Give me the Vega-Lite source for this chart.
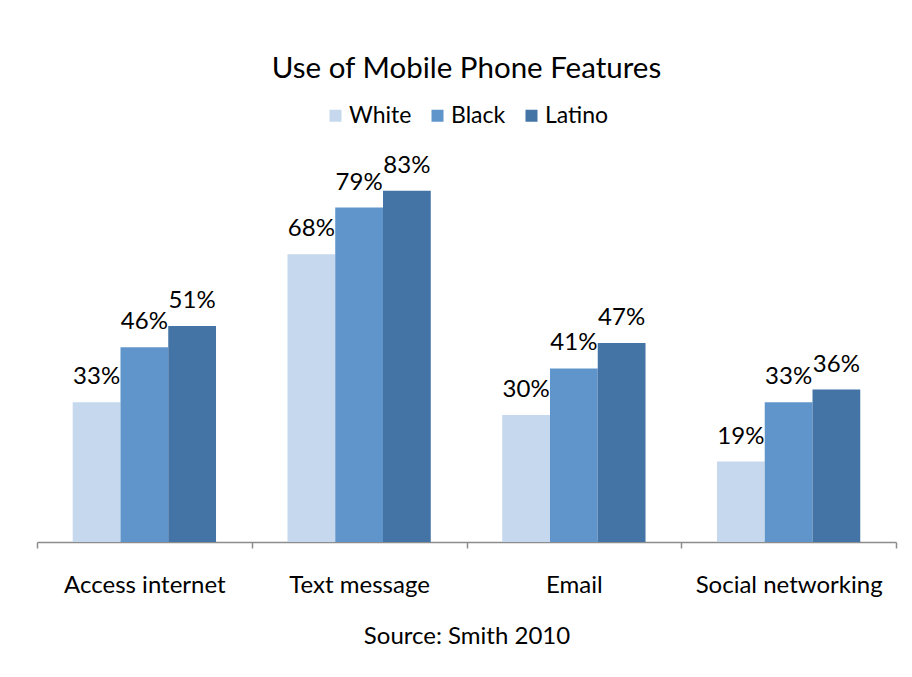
{
  "$schema": "https://vega.github.io/schema/vega-lite/v6.json",
  "autosize": {"type": "none"},
  "width": 859,
  "height": 381,
  "padding": {"left": 37, "top": 161, "right": 16, "bottom": 135},
  "background": "white",
  "config": {"view": {"stroke": null}, "font": "Lato"},
  "title": {
    "text": "Use of Mobile Phone Features",
    "fontSize": 29.5,
    "fontWeight": "normal",
    "font": "Lato",
    "color": "#000000",
    "anchor": "middle",
    "offset": 20
  },
  "data": {
    "values": [
      {"feature": "Access internet", "group": "White", "share": 0.33},
      {"feature": "Access internet", "group": "Black", "share": 0.46},
      {"feature": "Access internet", "group": "Latino", "share": 0.51},
      {"feature": "Text message", "group": "White", "share": 0.68},
      {"feature": "Text message", "group": "Black", "share": 0.79},
      {"feature": "Text message", "group": "Latino", "share": 0.83},
      {"feature": "Email", "group": "White", "share": 0.30},
      {"feature": "Email", "group": "Black", "share": 0.41},
      {"feature": "Email", "group": "Latino", "share": 0.47},
      {"feature": "Social networking", "group": "White", "share": 0.19},
      {"feature": "Social networking", "group": "Black", "share": 0.33},
      {"feature": "Social networking", "group": "Latino", "share": 0.36}
    ]
  },
  "encoding": {
    "x": {
      "field": "feature",
      "type": "nominal",
      "sort": ["Access internet", "Text message", "Email", "Social networking"],
      "scale": {"paddingInner": 0, "paddingOuter": 0},
      "axis": {
        "title": "Source: Smith 2010",
        "titleFontSize": 24,
        "titleFontWeight": "normal",
        "titleColor": "#000000",
        "titleBaseline": "alphabetic",
        "titlePadding": 46,
        "labelAngle": 0,
        "labelFontSize": 24,
        "labelColor": "#000000",
        "labelBaseline": "alphabetic",
        "labelPadding": 44,
        "labelLimit": 0,
        "tickBand": "extent",
        "tickSize": 6,
        "tickColor": "#8c8c8c",
        "tickWidth": 1.5,
        "domainColor": "#8c8c8c",
        "domainWidth": 1.5,
        "grid": false
      }
    },
    "xOffset": {
      "field": "group",
      "type": "nominal",
      "sort": ["White", "Black", "Latino"],
      "scale": {"paddingInner": 0, "paddingOuter": 0.748}
    },
    "y": {
      "field": "share",
      "type": "quantitative",
      "scale": {"domain": [0, 0.9]},
      "axis": null
    }
  },
  "layer": [
    {
      "mark": {"type": "bar"},
      "encoding": {
        "color": {
          "field": "group",
          "type": "nominal",
          "sort": ["White", "Black", "Latino"],
          "scale": {"domain": ["White", "Black", "Latino"], "range": ["#C5D8EE", "#5F95CA", "#4473A5"]},
          "legend": {
            "title": null,
            "orient": "none",
            "legendX": 287,
            "legendY": -57,
            "direction": "horizontal",
            "symbolType": "square",
            "symbolSize": 144,
            "symbolStrokeWidth": 0,
            "labelFontSize": 23,
            "labelColor": "#000000",
            "labelOffset": 2,
            "columnPadding": 14
          }
        }
      }
    },
    {
      "mark": {"type": "text", "dy": -18, "baseline": "alphabetic", "fontSize": 24, "color": "#000000"},
      "encoding": {
        "text": {"field": "share", "type": "quantitative", "format": ".0%"}
      }
    }
  ]
}
